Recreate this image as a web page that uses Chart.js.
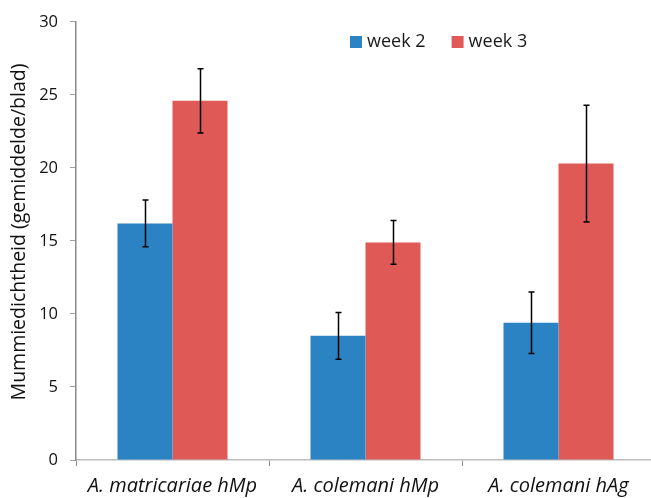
<!DOCTYPE html>
<html>
<head>
<meta charset="utf-8">
<script src="https://cdn.jsdelivr.net/npm/chart.js@4"></script>
<style>
  html, body { margin: 0; padding: 0; background: #fff; overflow: hidden; }
  #wrap { width: 655px; height: 498px; }
</style>
</head>
<body>
<div id="wrap"><canvas id="c" width="655" height="498"></canvas></div>
<script>
// Mummy density per leaf, weeks 2 and 3, with standard errors
const categories = ['A. matricariae hMp', 'A. colemani hMp', 'A. colemani hAg'];
const seriesNames = ['week 2', 'week 3'];
const week2 = [16.2, 8.5, 9.4];
const week3 = [24.6, 14.9, 20.3];
const week2Err = [1.6, 1.6, 2.1];
const week3Err = [2.2, 1.5, 4.0];
const yTicks = [0, 5, 10, 15, 20, 25, 30];
const yTitle = 'Mummiedichtheid (gemiddelde/blad)';

const FONT = "'Open Sans', 'Liberation Sans', sans-serif";
const BLUE = '#2C83C3';
const RED = '#DF5A56';

// error bars drawn on top of each bar
const errorBars = {
  id: 'errorBars',
  afterDatasetsDraw(chart) {
    const { ctx } = chart;
    const y = chart.scales.y;
    ctx.save();
    ctx.strokeStyle = '#000';
    ctx.lineWidth = 1.5;
    chart.data.datasets.forEach((ds, di) => {
      const meta = chart.getDatasetMeta(di);
      meta.data.forEach((bar, i) => {
        const v = ds.data[i], e = ds.errors[i];
        const x = Math.round(bar.x) + 0.5;
        const yt = y.getPixelForValue(v + e);
        const yb = y.getPixelForValue(v - e);
        ctx.beginPath();
        ctx.moveTo(x, yt); ctx.lineTo(x, yb);
        ctx.moveTo(x - 3, yt); ctx.lineTo(x + 3, yt);
        ctx.moveTo(x - 3, yb); ctx.lineTo(x + 3, yb);
        ctx.stroke();
      });
    });
    ctx.restore();
  }
};

// legend inside the plot area, plus the rotated y-axis title
const annotations = {
  id: 'annotations',
  afterDraw(chart) {
    const { ctx } = chart;
    ctx.save();
    ctx.font = '18px ' + FONT;
    ctx.textBaseline = 'middle';
    ctx.textAlign = 'left';
    let x = 350;
    const cy = 42;
    chart.data.datasets.forEach(ds => {
      ctx.fillStyle = ds.backgroundColor;
      ctx.fillRect(x, cy - 6, 12, 12);
      ctx.fillStyle = '#1a1a1a';
      ctx.fillText(ds.label, x + 17, cy);
      x += 17 + ctx.measureText(ds.label).width + 26;
    });

    ctx.translate(19, 232);
    ctx.rotate(-Math.PI / 2);
    ctx.textAlign = 'center';
    ctx.font = '19.5px ' + FONT;
    ctx.fillStyle = '#111';
    ctx.fillText(yTitle, 0, 0);
    ctx.restore();
  }
};

new Chart(document.getElementById('c'), {
  type: 'bar',
  data: {
    labels: categories,
    datasets: [
      { label: seriesNames[0], data: week2, errors: week2Err, backgroundColor: BLUE },
      { label: seriesNames[1], data: week3, errors: week3Err, backgroundColor: RED }
    ]
  },
  options: {
    responsive: false,
    animation: false,
    layout: { padding: { top: 21, left: 0, right: 0, bottom: 0 } },
    plugins: { legend: { display: false }, tooltip: { enabled: false } },
    datasets: { bar: { barPercentage: 1, categoryPercentage: 0.57 } },
    scales: {
      x: {
        offset: true,
        grid: { offset: true, drawOnChartArea: false, drawTicks: true, tickLength: 6, color: '#8a8a8a' },
        border: { color: '#bdbdbd', width: 1.5 },
        ticks: { color: '#111', padding: 8, maxRotation: 0, font: { family: FONT, size: 20, style: 'italic' } },
        afterFit(s) { s.height = 38; }
      },
      y: {
        min: 0, max: 30,
        afterBuildTicks(s) { s.ticks = yTicks.map(v => ({ value: v })); },
        grid: { drawOnChartArea: false, drawTicks: true, tickLength: 6, color: '#a0a0a0' },
        border: { color: '#8a8a8a', width: 1.5 },
        ticks: { color: '#111', padding: 12, font: { family: FONT, size: 16.5 } },
        afterFit(s) { s.width = 76; }
      }
    }
  },
  plugins: [errorBars, annotations]
});
</script>
</body>
</html>
